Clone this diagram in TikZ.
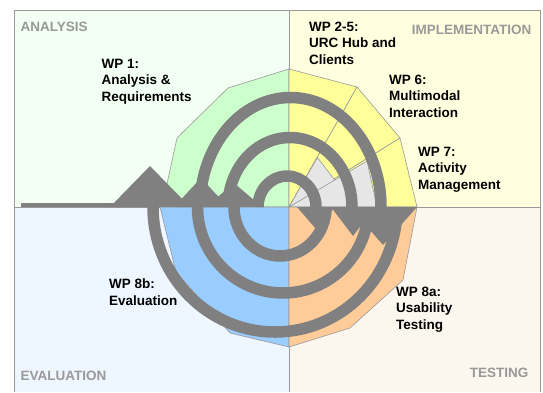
\documentclass[tikz,border=0pt]{standalone}
\usepackage{fontspec}
\setmainfont{Liberation Sans}
\usetikzlibrary{positioning}
\definecolor{qgreen}{HTML}{F2FFF2}
\definecolor{qyellow}{HTML}{FFFFE0}
\definecolor{qblue}{HTML}{EEF6FF}
\definecolor{qbeige}{HTML}{FBF6EE}
\definecolor{wgreen}{HTML}{CCFFCC}
\definecolor{wyellow}{HTML}{FFFF99}
\definecolor{wblue}{HTML}{99CCFF}
\definecolor{worange}{HTML}{FFCC99}
\definecolor{wgrey}{HTML}{E6E6E6}
\definecolor{bandgrey}{HTML}{808080}
\definecolor{edgegrey}{HTML}{999999}
\definecolor{phasegrey}{HTML}{999999}

\begin{document}
\begin{tikzpicture}[x=1pt,y=-1pt,
    wp/.style={anchor=base west,align=left,inner sep=0pt,font=\bfseries\fontsize{13.5}{16.5}\selectfont},
    phase/.style={inner sep=0pt,text=phasegrey,font=\bfseries\fontsize{13.5}{16.5}\selectfont},
    wedge/.style={draw=edgegrey,line width=0.6pt,line join=round},
    band/.style={draw=bandgrey,line width=11.5pt},
    head/.style={fill=bandgrey}]
    \useasboundingbox (0,0) rectangle (543,392);
    \coordinate (c) at (289,207);
    % quadrants
    \fill[qgreen] (14,10) rectangle (c);
    \fill[qyellow] (289,10) rectangle (540,207);
    \fill[qblue] (14,207) rectangle (289,392);
    \fill[qbeige] (c) rectangle (540,392);
    \draw[edgegrey,line width=0.8pt] (14,392) -- (14,10) -- (540,10) -- (540,392);
    \draw[edgegrey,line width=0.8pt] (289,10) -- (289,392);
    \draw[edgegrey,line width=0.8pt] (14,207) -- (540,207);

    % work packages
    \filldraw[wedge,fill=wgreen] (c) -- (289,69) -- (228,88) -- (177,138) -- (162,207) -- cycle;
    \filldraw[wedge,fill=wyellow] (c) -- (289,69) -- (357,87) -- cycle;
    \filldraw[wedge,fill=wyellow] (c) -- (357,87) -- (400,138) -- cycle;
    \filldraw[wedge,fill=wyellow] (c) -- (400,138) -- (417,207) -- cycle;
    \filldraw[wedge,fill=wgrey] (c) -- (317.5,157.5) -- (335,180.5) -- cycle;
    \filldraw[wedge,fill=wgrey] (c) -- (367,161) -- (377,207) -- cycle;
    \filldraw[wedge,fill=wblue] (c) -- (160,207) -- (176,272) -- (230,333) -- (289,347) -- cycle;
    \filldraw[wedge,fill=worange] (c) -- (289,347) -- (350,328) -- (403,280) -- (417,207) -- cycle;

    % spiral
    \fill[head] (21,203) rectangle (115,206.5);
    \draw[band] (258,207) arc[start angle=180,end angle=360,x radius=29,y radius=31];
    \draw[band] (326,207) arc[start angle=0,end angle=180,x radius=46,y radius=49];
    \draw[band] (228,207) arc[start angle=180,end angle=360,x radius=62,y radius=69.5];
    \draw[band] (368.5,207) arc[start angle=0,end angle=180,x radius=85.5,y radius=86];
    \draw[band] (200,207) arc[start angle=180,end angle=360,x radius=90.5,y radius=109.5];
    \draw[band] (397,207) arc[start angle=0,end angle=180,x radius=122,y radius=125];
    \fill[head] (297,207) -- (335,207) -- (316,229) -- cycle;
    \fill[head] (331,207) -- (375,207) -- (353,236) -- cycle;
    \fill[head] (350,207) -- (417,207) -- (383,245) -- cycle;
    \fill[head] (206,207) -- (262,207) -- (234,183) -- cycle;
    \fill[head] (174,207) -- (228,207) -- (201,178) -- cycle;
    \fill[head] (110,207) -- (190,207) -- (150,166) -- cycle;

    % labels (base = last line)
    \node[phase,anchor=base west] (analysis) at (20.5,31) {ANALYSIS};
    \node[phase,anchor=base east] (implementation) at (531.5,34) {IMPLEMENTATION};
    \node[phase,anchor=base west] (evaluation) at (20.5,380) {EVALUATION};
    \node[phase,anchor=base east] (testing) at (528.5,377.5) {TESTING};
    \node[wp] (wp1) at (101.5,101) {WP 1:\\Analysis \&\\Requirements};
    \node[wp] (wp25) at (309,64) {WP 2-5:\\URC Hub and\\Clients};
    \node[wp] (wp6) at (389,117) {WP 6:\\Multimodal\\Interaction};
    \node[wp] (wp7) at (418,189) {WP 7:\\Activity\\Management};
    \node[wp] (wp8b) at (109,305) {WP 8b:\\Evaluation};
    \node[wp] (wp8a) at (396,329) {WP 8a:\\Usability\\Testing};
\end{tikzpicture}
\end{document}
